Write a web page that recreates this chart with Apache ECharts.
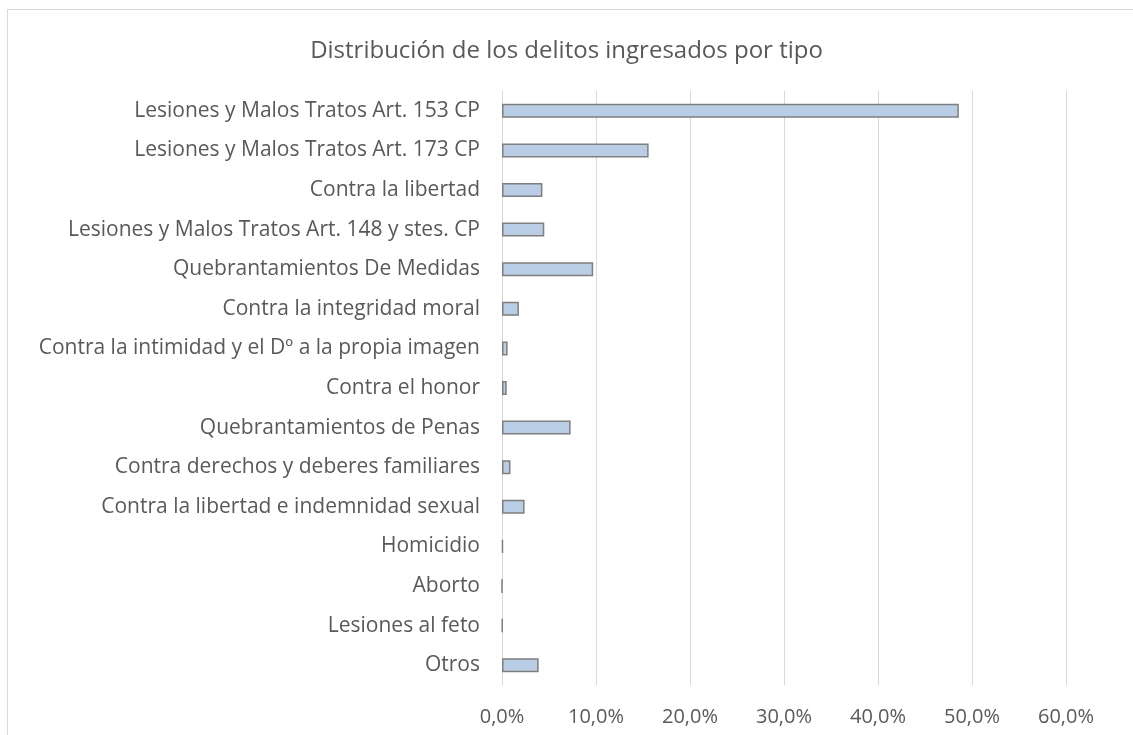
<!DOCTYPE html>
<html>
<head>
<meta charset="utf-8">
<title>Distribución de los delitos ingresados por tipo</title>
<script src="https://cdn.jsdelivr.net/npm/echarts@6/dist/echarts.min.js"></script>
<style>
  html, body { margin: 0; padding: 0; background: #fff; overflow: hidden; }
  #frame { position: absolute; left: 7px; top: 9px; width: 1200px; height: 800px; border: 1px solid #d9d9d9; box-sizing: border-box; }
  #main { position: absolute; left: 0; top: 0; width: 1133px; height: 735px; }
</style>
</head>
<body>
<div id="frame"></div>
<div id="main"></div>
<script type="text/javascript">
// categorias (de arriba a abajo)
var categorias = [
  'Lesiones y Malos Tratos Art. 153 CP',
  'Lesiones y Malos Tratos Art. 173 CP',
  'Contra la libertad',
  'Lesiones y Malos Tratos Art. 148 y stes. CP',
  'Quebrantamientos De Medidas',
  'Contra la integridad moral',
  'Contra la intimidad y el Dº a la propia imagen',
  'Contra el honor',
  'Quebrantamientos de Penas',
  'Contra derechos y deberes familiares',
  'Contra la libertad e indemnidad sexual',
  'Homicidio',
  'Aborto',
  'Lesiones al feto',
  'Otros'
];
// porcentaje de delitos ingresados
var porcentajes = [48.6, 15.6, 4.3, 4.5, 9.7, 1.8, 0.6, 0.5, 7.3, 0.9, 2.4, 0.1, 0.0, 0.05, 3.9];
var ticksX = [0, 10, 20, 30, 40, 50, 60];

var fuente = '"Open Sans", "Liberation Sans", sans-serif';
var myChart = echarts.init(document.getElementById('main'));
var option = {
  animation: false,
  textStyle: { fontFamily: fuente },
  title: {
    text: 'Distribución de los delitos ingresados por tipo',
    left: 'center',
    top: 34,
    textStyle: { fontFamily: fuente, fontSize: 24, fontWeight: 'normal', color: '#595959' }
  },
  grid: { left: 502, right: 67, top: 91, bottom: 50, containLabel: false },
  xAxis: {
    type: 'value',
    min: ticksX[0],
    max: ticksX[ticksX.length - 1],
    interval: 10,
    axisLine: { show: false },
    axisTick: { show: false },
    splitLine: { show: true, lineStyle: { color: '#d9d9d9', width: 1 } },
    axisLabel: {
      margin: 22,
      fontSize: 20,
      color: '#595959',
      fontFamily: fuente,
      formatter: function (v) { return v.toFixed(1).replace('.', ',') + '%'; }
    }
  },
  yAxis: {
    type: 'category',
    inverse: true,
    data: categorias,
    axisLine: { show: true, lineStyle: { color: '#d9d9d9', width: 1 } },
    axisTick: { show: false },
    axisLabel: { margin: 22, fontSize: 21, color: '#595959', fontFamily: fuente }
  },
  series: [{
    type: 'bar',
    data: porcentajes,
    barWidth: 14,
    itemStyle: { color: '#b9cde5', borderColor: '#7f7f7f', borderWidth: 1.5 }
  }]
};
myChart.setOption(option);
</script>
</body>
</html>
